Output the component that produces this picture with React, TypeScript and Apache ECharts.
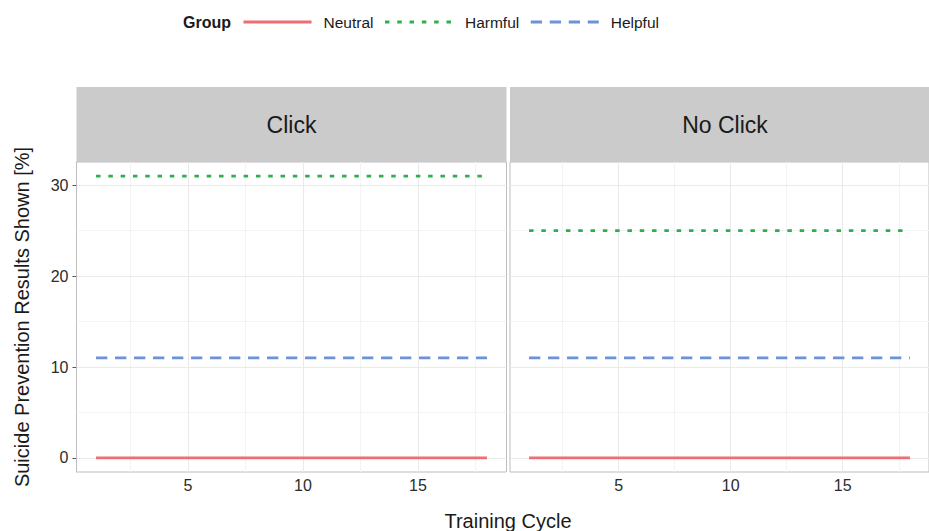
import React, { useEffect, useRef } from "react";
import * as echarts from "echarts";

// ---- Data ----
const cycles = [1, 2, 3, 4, 5, 6, 7, 8, 9, 10, 11, 12, 13, 14, 15, 16, 17, 18];
const panels = ["Click", "No Click"];
const groups = ["Neutral", "Harmful", "Helpful"];

const clickNeutral = [0, 0, 0, 0, 0, 0, 0, 0, 0, 0, 0, 0, 0, 0, 0, 0, 0, 0];
const clickHarmful = [31, 31, 31, 31, 31, 31, 31, 31, 31, 31, 31, 31, 31, 31, 31, 31, 31, 31];
const clickHelpful = [11, 11, 11, 11, 11, 11, 11, 11, 11, 11, 11, 11, 11, 11, 11, 11, 11, 11];

const noClickNeutral = [0, 0, 0, 0, 0, 0, 0, 0, 0, 0, 0, 0, 0, 0, 0, 0, 0, 0];
const noClickHarmful = [25, 25, 25, 25, 25, 25, 25, 25, 25, 25, 25, 25, 25, 25, 25, 25, 25, 25];
const noClickHelpful = [11, 11, 11, 11, 11, 11, 11, 11, 11, 11, 11, 11, 11, 11, 11, 11, 11, 11];

const xTicks = [5, 10, 15];
const xMinorTicks = [2.5, 7.5, 12.5, 17.5];
const yTicks = [0, 10, 20, 30];
const yMinorTicks = [5, 15, 25];

const xRange = [0.15, 18.85];
const yRange = [-1.55, 32.55];

const panelData = [
  [clickNeutral, clickHarmful, clickHelpful],
  [noClickNeutral, noClickHarmful, noClickHelpful],
];

// ---- Styles ----
const FONT = "Liberation Sans, Arial, Helvetica, sans-serif";
const groupColors = ["#EE6E73", "#2EAF4A", "#6B93D6"];
const groupDash: any[] = ["solid", [4.5, 7.8], [11.3, 7.7]];

const gridsPos = [
  { left: 76.5, top: 162, width: 430, height: 310 },
  { left: 510, top: 162, width: 430, height: 310 },
];

export default function App() {
  const ref = useRef<HTMLDivElement>(null);

  useEffect(() => {
    if (!ref.current) return;
    const chart = echarts.init(ref.current, undefined, { renderer: "svg" });

    const grids = gridsPos.map((g) => ({
      ...g,
      show: true,
      borderColor: "#BDBDBD",
      borderWidth: 1,
      backgroundColor: "#FFFFFF",
      containLabel: false,
    }));

    const xAxes = gridsPos.map((_, i) => ({
      type: "value",
      gridIndex: i,
      min: xRange[0],
      max: xRange[1],
      axisLine: { show: true, lineStyle: { color: "#BDBDBD", width: 1 } },
      axisTick: {
        show: true,
        length: 4,
        customValues: xTicks,
        lineStyle: { color: "#555555" },
      },
      axisLabel: {
        show: true,
        customValues: xTicks,
        margin: 5,
        fontSize: 16,
        fontFamily: FONT,
        color: "#2B2B2B",
      },
      splitLine: { show: false },
    }));

    const yAxes = gridsPos.map((_, i) => ({
      type: "value",
      gridIndex: i,
      min: yRange[0],
      max: yRange[1],
      name: i === 0 ? "Suicide Prevention Results Shown [%]" : "",
      nameLocation: "middle",
      nameGap: 45,
      nameRotate: 90,
      nameTextStyle: { fontSize: 20, fontFamily: FONT, color: "#1A1A1A" },
      axisLine: { show: i === 0, lineStyle: { color: "#BDBDBD", width: 1 } },
      axisTick: {
        show: i === 0,
        length: 4,
        customValues: yTicks,
        lineStyle: { color: "#555555" },
      },
      axisLabel: {
        show: i === 0,
        customValues: yTicks,
        margin: 8,
        fontSize: 16,
        fontFamily: FONT,
        color: "#2B2B2B",
      },
      splitLine: { show: false },
    }));

    const series: any[] = [];
    gridsPos.forEach((_, i) => {
      // grid lines (behind data)
      series.push({
        type: "line",
        name: "__grid" + i,
        xAxisIndex: i,
        yAxisIndex: i,
        data: [],
        silent: true,
        z: 1,
        markLine: {
          silent: true,
          symbol: "none",
          z: 1,
          animation: false,
          label: { show: false },
          data: [
            ...xMinorTicks.map((v) => ({ xAxis: v, lineStyle: { color: "#F4F4F4", width: 1, type: "solid" } })),
            ...yMinorTicks.map((v) => ({ yAxis: v, lineStyle: { color: "#F4F4F4", width: 1, type: "solid" } })),
            ...xTicks.map((v) => ({ xAxis: v, lineStyle: { color: "#EAEAEA", width: 1, type: "solid" } })),
            ...yTicks.map((v) => ({ yAxis: v, lineStyle: { color: "#EAEAEA", width: 1, type: "solid" } })),
          ],
        },
      });
      groups.forEach((g, k) => {
        series.push({
          type: "line",
          name: g,
          xAxisIndex: i,
          yAxisIndex: i,
          symbol: "none",
          showSymbol: false,
          z: 3,
          color: groupColors[k],
          lineStyle: { color: groupColors[k], width: 2.8, type: groupDash[k], cap: "butt" },
          data: cycles.map((c, j) => [c, panelData[i][k][j]]),
        });
      });
    });

    const graphics: any[] = [];
    gridsPos.forEach((g, i) => {
      graphics.push({
        type: "rect",
        shape: { x: g.left, y: 87, width: g.width, height: 75 },
        style: { fill: "#CBCBCB" },
        z: 0,
      });
      graphics.push({
        type: "text",
        x: g.left + g.width / 2,
        y: 124.5,
        style: {
          text: panels[i],
          fontSize: 23,
          fontFamily: FONT,
          fill: "#1A1A1A",
          textAlign: "center",
          textVerticalAlign: "middle",
        },
        z: 1,
      });
    });
    graphics.push({
      type: "text",
      x: 508,
      y: 521,
      style: {
        text: "Training Cycle",
        fontSize: 20,
        fontFamily: FONT,
        fill: "#1A1A1A",
        textAlign: "center",
        textVerticalAlign: "middle",
      },
    });
    graphics.push({
      type: "text",
      x: 183,
      y: 22,
      style: {
        text: "Group",
        fontSize: 16,
        fontWeight: "bold",
        fontFamily: FONT,
        fill: "#1A1A1A",
        textAlign: "left",
        textVerticalAlign: "middle",
      },
    });

    chart.setOption({
      animation: false,
      backgroundColor: "#FFFFFF",
      grid: grids,
      xAxis: xAxes,
      yAxis: yAxes,
      legend: {
        data: groups,
        left: 237,
        top: 9,
        padding: 5,
        itemWidth: 68,
        itemHeight: 16,
        itemGap: 10,
        itemStyle: { opacity: 0 },
        lineStyle: { width: 3 },
        textStyle: {
          fontSize: 15.5,
          fontFamily: FONT,
          color: "#1A1A1A",
          padding: [0, 0, 0, 7],
        },
      },
      graphic: graphics,
      series,
    });

    return () => chart.dispose();
  }, []);

  return (
    <div
      ref={ref}
      style={{ position: "fixed", left: 0, top: 0, width: 929, height: 531 }}
    />
  );
}
